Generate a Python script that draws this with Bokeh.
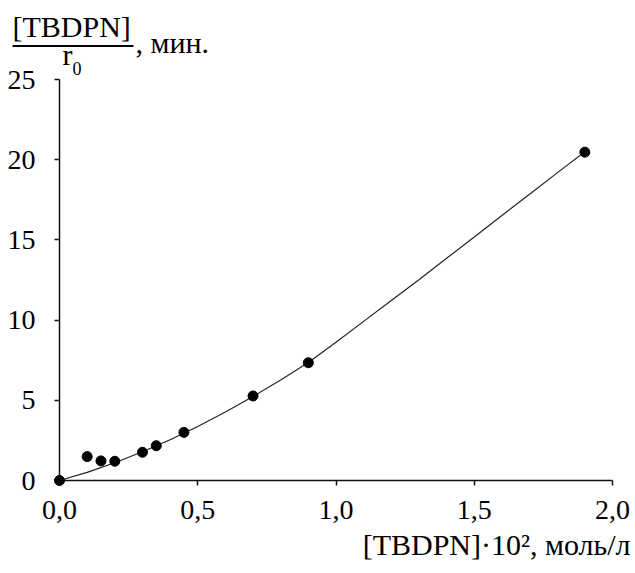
from bokeh.plotting import figure
from bokeh.models import (Label, BoxAnnotation, FixedTicker, CustomJSTickFormatter,
                          Range1d, GridBox, Column)
from bokeh.embed import file_html
from bokeh.resources import INLINE

# measured points: [TBDPN]*10^2 (mol/L) vs [TBDPN]/r0 (min)
conc = [0.0, 0.10, 0.15, 0.20, 0.30, 0.35, 0.45, 0.70, 0.90, 1.90]
ratio = [0.0, 1.49, 1.22, 1.20, 1.76, 2.17, 3.00, 5.27, 7.34, 20.47]

# fitted curve, sampled along the concentration axis
fit_x = [0.0, 0.1, 0.2, 0.3, 0.4, 0.5, 0.6, 0.7, 0.8, 0.9, 1.0,
         1.1, 1.2, 1.3, 1.4, 1.5, 1.6, 1.7, 1.8, 1.9]
fit_y = [0.0, 0.51, 1.11, 1.79, 2.54, 3.37, 4.27, 5.24, 6.27, 7.35, 8.62,
         9.92, 11.22, 12.52, 13.85, 15.18, 16.52, 17.85, 19.18, 20.50]

x_ticks = [0.0, 0.5, 1.0, 1.5, 2.0]
y_ticks = [0, 5, 10, 15, 20, 25]

FONT = "Liberation Serif"
W, H = 635, 573
# plotting frame edges in canvas pixels
LEFT, RIGHT, TOP, BOTTOM = 59, 612, 79, 480
X0, X1, Y0, Y1 = 0.0, 2.0, 0.0, 25.0

# --- axes layer ---
p = figure(width=W, height=H, output_backend="svg", toolbar_location=None,
           x_range=Range1d(X0, X1), y_range=Range1d(Y0, Y1),
           min_border_left=LEFT, min_border_right=W - RIGHT,
           min_border_top=TOP, min_border_bottom=H - BOTTOM)
p.outline_line_color = None
p.xgrid.visible = False
p.ygrid.visible = False
p.background_fill_color = "white"
p.border_fill_color = "white"

for ax in (p.xaxis[0], p.yaxis[0]):
    ax.axis_line_color = "#111111"
    ax.axis_line_width = 1.5
    ax.major_tick_line_color = "#111111"
    ax.major_tick_line_width = 1.5
    ax.major_tick_in = 0
    ax.major_tick_out = 5
    ax.minor_tick_line_color = None
    ax.major_label_text_font = FONT
    ax.major_label_text_font_size = "28px"
    ax.major_label_text_color = "black"

p.xaxis.ticker = FixedTicker(ticks=x_ticks)
p.xaxis.formatter = CustomJSTickFormatter(code="return tick.toFixed(1).replace('.', ',');")
p.xaxis.major_label_standoff = 15
p.yaxis.ticker = FixedTicker(ticks=y_ticks)
p.yaxis.formatter = CustomJSTickFormatter(code="return tick.toFixed(0);")
p.yaxis.major_label_standoff = 19

# --- data and title layer: frame spans the whole canvas, same data scale ---
sx = (RIGHT - LEFT) / (X1 - X0)
sy = (BOTTOM - TOP) / (Y1 - Y0)
q = figure(width=W, height=H, output_backend="svg", toolbar_location=None,
           x_range=Range1d(X0 - LEFT / sx, X1 + (W - RIGHT) / sx),
           y_range=Range1d(Y0 - (H - BOTTOM) / sy, Y1 + TOP / sy),
           x_axis_type=None, y_axis_type=None,
           min_border_left=0, min_border_right=0,
           min_border_top=0, min_border_bottom=0)
q.outline_line_color = None
q.grid.visible = False
q.background_fill_alpha = 0
q.border_fill_alpha = 0

q.line(fit_x, fit_y, line_color="#222222", line_width=1.2)
q.scatter(conc, ratio, size=10, fill_color="black", line_color="black")


def label(text, x, baseline, size=30, align="left"):
    # x and baseline are canvas pixels from the top-left corner;
    # the label anchor sits about 0.37 em above the glyph baseline
    q.add_layout(Label(x=x, y=baseline - 0.37 * size, x_units="canvas", y_units="canvas",
                       text=text, text_font=FONT, text_font_size=f"{size}px",
                       text_color="black", text_align=align,
                       text_baseline="alphabetic"))


# y-axis title: fraction [TBDPN] / r0, then ", мин."
label("[TBDPN]", 12, 37)
q.add_layout(BoxAnnotation(left=12, right=133, top=44.5, bottom=46.5,
                           left_units="canvas", right_units="canvas",
                           top_units="canvas", bottom_units="canvas",
                           fill_color="black", fill_alpha=1.0, line_color=None))
label("r", 62, 65)
label("0", 72, 75, size=18)
label(", мин.", 135, 53)

# x-axis title
label("[TBDPN]·10², моль/л", 630, 555, align="right")

layout = GridBox(children=[(p, 0, 0), (Column(children=[q]), 0, 0)])
open("out.html", "w").write(file_html(layout, INLINE))
